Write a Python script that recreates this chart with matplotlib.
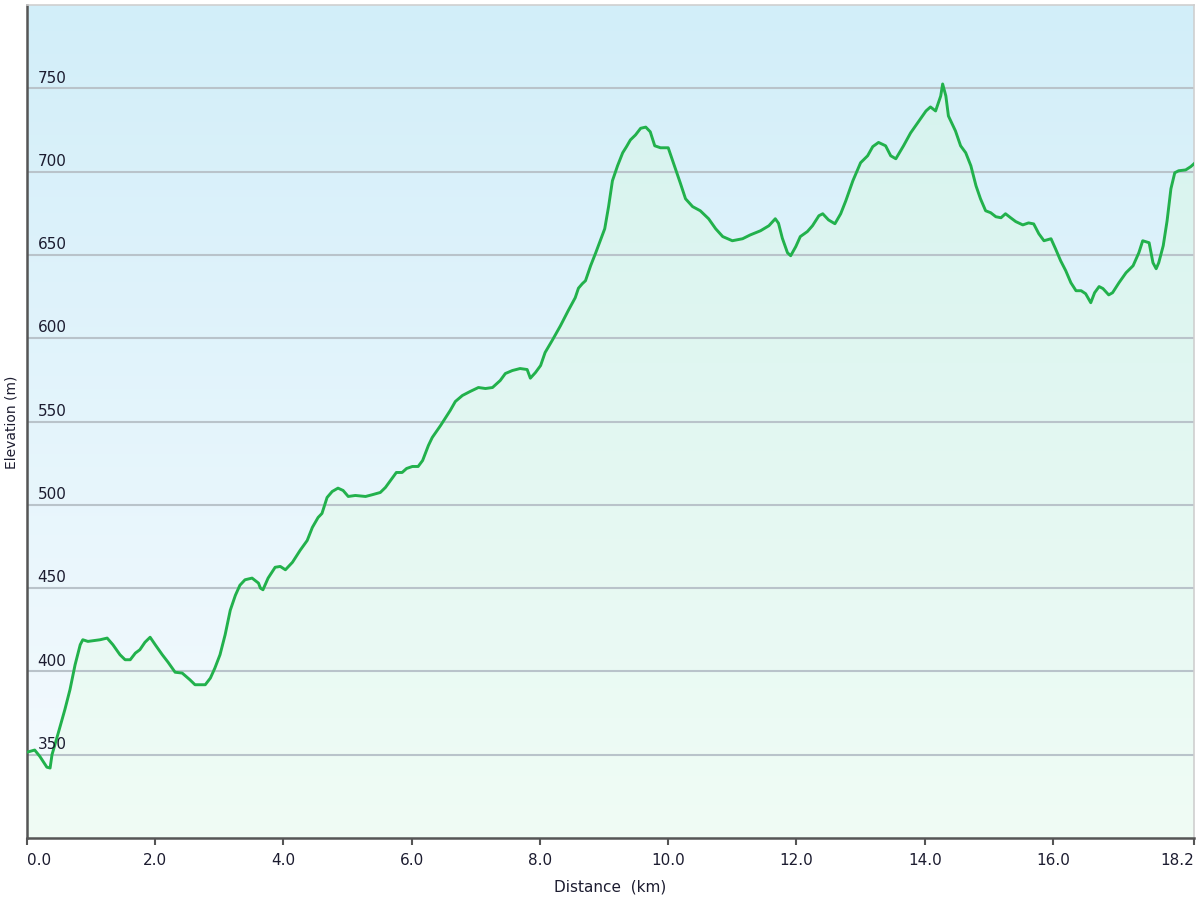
import numpy as np
import matplotlib
matplotlib.use("Agg")
import matplotlib.pyplot as plt
from matplotlib.patches import Polygon
from matplotlib.colors import LinearSegmentedColormap

# distance (km) / elevation (m)
dist = [0.00, 0.12, 0.20, 0.31, 0.36, 0.39, 0.48, 0.59, 0.67, 0.75, 0.83, 0.87, 0.95,
        1.14, 1.25, 1.34, 1.45, 1.53, 1.61, 1.69, 1.76, 1.84, 1.92, 2.00, 2.11, 2.20,
        2.31, 2.42, 2.54, 2.62, 2.70, 2.78, 2.86, 2.93, 3.01, 3.09, 3.17, 3.25, 3.32,
        3.40, 3.51, 3.61, 3.64, 3.68, 3.76, 3.87, 3.95, 4.03, 4.14, 4.26, 4.37, 4.45,
        4.54, 4.60, 4.68, 4.76, 4.85, 4.93, 5.01, 5.12, 5.28, 5.38, 5.51, 5.59, 5.67,
        5.76, 5.85, 5.92, 6.01, 6.10, 6.17, 6.26, 6.32, 6.45, 6.52, 6.60, 6.68, 6.79,
        6.91, 7.04, 7.15, 7.26, 7.38, 7.46, 7.57, 7.69, 7.80, 7.85, 7.93, 8.01, 8.08,
        8.19, 8.32, 8.44, 8.55, 8.60, 8.66, 8.71, 8.79, 8.87, 8.94, 9.01, 9.07, 9.13,
        9.21, 9.29, 9.35, 9.41, 9.49, 9.57, 9.65, 9.72, 9.79, 9.88, 10.00, 10.11, 10.19,
        10.27, 10.38, 10.50, 10.63, 10.74, 10.85, 11.00, 11.16, 11.28, 11.44, 11.57,
        11.67, 11.72, 11.78, 11.86, 11.91, 11.99, 12.06, 12.17, 12.25, 12.35, 12.41,
        12.50, 12.60, 12.69, 12.77, 12.88, 13.00, 13.11, 13.19, 13.28, 13.39, 13.47,
        13.55, 13.67, 13.78, 13.91, 14.02, 14.09, 14.17, 14.25, 14.28, 14.33, 14.37,
        14.48, 14.56, 14.64, 14.72, 14.80, 14.87, 14.95, 15.03, 15.11, 15.19, 15.26,
        15.34, 15.42, 15.53, 15.62, 15.70, 15.78, 15.86, 15.97, 16.04, 16.12, 16.20,
        16.28, 16.36, 16.44, 16.51, 16.59, 16.65, 16.72, 16.78, 16.87, 16.93, 17.03,
        17.14, 17.25, 17.34, 17.40, 17.50, 17.56, 17.61, 17.65, 17.72, 17.78, 17.84,
        17.90, 17.96, 18.07, 18.15, 18.20]
elev = [351.5, 352.8, 349, 342.5, 342, 350, 362, 377, 389, 404, 416, 419, 418,
        419, 420, 416, 410, 407, 407, 411, 413, 417.5, 420.5, 416, 410, 405.5,
        399.5, 399, 395, 392, 392, 392, 396, 402, 410, 422, 436.7, 445.7, 451.7,
        455, 456, 453, 450, 449, 456, 462.5, 463, 461, 465.5, 472.7, 478.6, 486.4,
        492.4, 494.8, 504.4, 508, 510, 508.6, 505, 505.6, 505, 506, 507.4, 510.4, 514.6,
        519.4, 519.4, 521.8, 523, 523, 526.6, 535.6, 540.4, 547.6, 551.8, 556.6, 562, 565.6,
        568, 570.4, 569.8, 570.4, 574.6, 578.8, 580.6, 581.8, 581.2, 576, 579.4, 583.6, 591.4,
        598.6, 607.5, 616.5, 624.3, 630, 632.7, 634.5, 643.5, 651.3, 658.5, 665.7, 679, 694.5,
        703.5, 711.3, 715, 719, 722, 726, 726.7, 723.9, 715.5, 714.3, 714.3, 702, 693,
        683.7, 679, 676.5, 671.7, 665.7, 661, 658.5, 659.7, 662, 664.5, 667.5,
        671.7, 669, 660, 651.3, 649.5, 655, 661, 664, 667.5, 673.5, 674.7,
        671, 668.7, 674.7, 682.5, 694.5, 705.3, 709.5, 715, 717.5, 715.5, 709.5,
        707.7, 715.5, 723.2, 730.4, 736.4, 738.8, 736.4, 745.4, 752.6, 745.4, 733.4,
        724.4, 715.5, 711.3, 703.5, 691.5, 683.7, 676.5, 675.3, 672.9, 672.3, 674.7,
        672.3, 670, 668, 669.2, 668.6, 662.7, 658.5, 659.7, 653.7, 646.5, 640.5,
        633.3, 628.5, 628.5, 626.7, 621.3, 627.3, 631, 629.8, 626, 627.3, 633.3,
        639.3, 643.5, 651.3, 658.5, 657.3, 645.3, 641.7, 645.3, 655.5, 670.4, 689.7,
        699.3, 700.5, 701, 703, 704.7]

y_ticks = [350, 400, 450, 500, 550, 600, 650, 700, 750]
x_ticks = [0, 2, 4, 6, 8, 10, 12, 14, 16, 18.2]
x_labels = ["0.0", "2.0", "4.0", "6.0", "8.0", "10.0", "12.0", "14.0", "16.0", "18.2"]

x0, x1 = 0, 18.2
y0, y1 = 300, 800

fig = plt.figure(figsize=(12, 9), dpi=100)
ax = fig.add_axes([27 / 1200, 62 / 900, 1167 / 1200, 833 / 900])
ax.set_xlim(x0, x1)
ax.set_ylim(y0, y1)

# background gradient: light blue top -> almost white bottom
bg = LinearSegmentedColormap.from_list("bg", ["#f6fbfe", "#d2eef9"])
grad = np.linspace(0, 1, 256).reshape(-1, 1)
ax.imshow(grad, cmap=bg, extent=[x0, x1, y0, y1], origin="lower",
          aspect="auto", zorder=0)

# gradient fill under the profile
fillcm = LinearSegmentedColormap.from_list("fill", ["#f0fcf5", "#d4f2ee"])
im = ax.imshow(grad, cmap=fillcm, extent=[x0, x1, y0, y1], origin="lower",
               aspect="auto", zorder=1)
verts = [(dist[0], y0)] + list(zip(dist, elev)) + [(dist[-1], y0)]
poly = Polygon(verts, closed=True, facecolor="none", edgecolor="none")
ax.add_patch(poly)
im.set_clip_path(poly)

for yt in y_ticks:
    ax.axhline(yt, color="#b9c3ca", lw=1.5, zorder=2)
    ax.annotate(str(yt), xy=(0, yt), xycoords=("axes fraction", "data"),
                xytext=(7.5, 2), textcoords="offset points", fontsize=11,
                color="#1c1c30", ha="left", va="bottom", zorder=4)

ax.plot(dist, elev, color="#22b14c", lw=2.1, zorder=3, solid_joinstyle="round")

ax.set_yticks([])
ax.set_xticks(x_ticks)
ax.set_xticklabels(x_labels, fontsize=11, color="#1c1c30")
tl = ax.get_xticklabels()
tl[0].set_ha("left")
tl[-1].set_ha("right")
ax.tick_params(axis="x", direction="out", length=5, width=1.5, color="#555555", pad=6)

for s in ["left", "bottom"]:
    ax.spines[s].set_color("#555555")
    ax.spines[s].set_linewidth(1.8)
for s in ["top", "right"]:
    ax.spines[s].set_color("#cfcfcf")
    ax.spines[s].set_linewidth(1.2)

ax.set_xlabel("Distance  (km)", fontsize=11, color="#1c1c30", labelpad=8)
fig.text(12 / 1200, 1 - 422 / 900, "Elevation (m)", rotation=90, fontsize=10,
         color="#1c1c30", ha="center", va="center")

fig.savefig("out.png", dpi=100, facecolor="white")
